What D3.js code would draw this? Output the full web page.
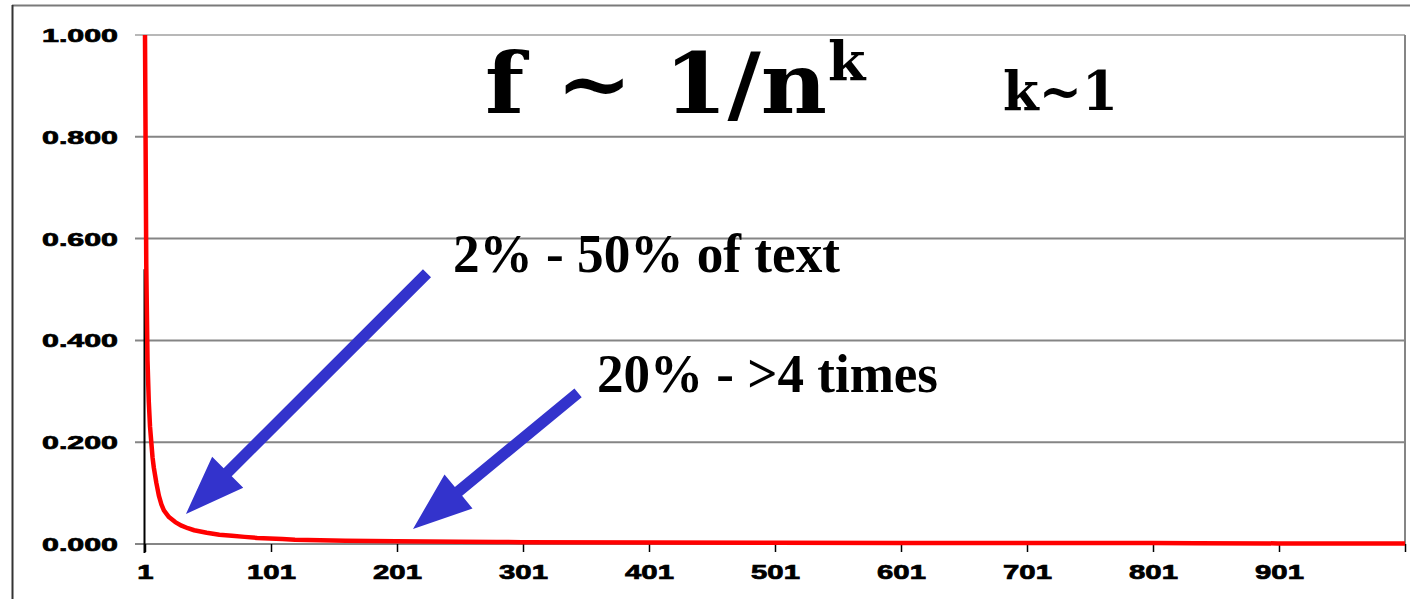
<!DOCTYPE html>
<html>
<head>
<meta charset="utf-8">
<script src="https://cdn.jsdelivr.net/npm/d3@7"></script>
<style>
  body { margin: 0; background: #fff; }
  svg { display: block; }
</style>
</head>
<body>
<div id="wrapper"></div>
<script>
// rank of word (n) and its relative frequency
const ranks = [1, 2, 3, 4, 5, 6, 7, 8, 10, 12, 14, 16, 20, 25, 30, 35, 40, 50, 60, 70, 80, 90, 100,
  110, 120, 140, 160, 180, 200, 250, 280, 300, 400, 500, 600, 700, 800, 835, 900, 1001]
const freqs = [1.000, 0.55, 0.36, 0.28, 0.23, 0.20, 0.17, 0.15, 0.12, 0.095, 0.078, 0.066, 0.053,
  0.043, 0.036, 0.031, 0.027, 0.022, 0.018, 0.016, 0.014, 0.012, 0.011, 0.010, 0.0085, 0.0075,
  0.0065, 0.006, 0.0055, 0.0045, 0.004, 0.0035, 0.003, 0.0025, 0.0022, 0.002, 0.0018, 0.0015,
  0.0012, 0.001]

const xTicks = [1, 101, 201, 301, 401, 501, 601, 701, 801, 901, 1001]
const yTicks = [0, 0.2, 0.4, 0.6, 0.8, 1.0]

const notes = ["2% - 50% of text", "20% - >4 times"]
// arrows in data units: [tail n, tail f, tip n, tip f]
const arrows = [
  [224.8, 0.532, 33.5, 0.059],
  [344.7, 0.297, 213.7, 0.0295]
]

function draw() {
  let dimensions = {
    width: 1410,
    height: 599,
    margin: { top: 35, right: 5, bottom: 55, left: 145 }
  }
  dimensions.boundedWidth = dimensions.width - dimensions.margin.left - dimensions.margin.right
  dimensions.boundedHeight = dimensions.height - dimensions.margin.top - dimensions.margin.bottom

  const wrapper = d3.select("#wrapper")
    .append("svg")
      .attr("width", dimensions.width)
      .attr("height", dimensions.height)

  // outer frame of the slide chart
  wrapper.append("line")
    .attr("x1", 12).attr("x2", 1410).attr("y1", 5.5).attr("y2", 5.5)
    .attr("stroke", "#7a7a7a").attr("stroke-width", 2)
  wrapper.append("line")
    .attr("x1", 12.5).attr("x2", 12.5).attr("y1", 5).attr("y2", 599)
    .attr("stroke", "#333").attr("stroke-width", 2)

  const bounds = wrapper.append("g")
    .attr("transform", `translate(${dimensions.margin.left},${dimensions.margin.top})`)

  const xScale = d3.scaleLinear()
    .domain([1, 1001])
    .range([0, dimensions.boundedWidth])

  const yScale = d3.scaleLinear()
    .domain([0, 1])
    .range([dimensions.boundedHeight, 0])

  // gridlines
  bounds.append("g")
    .selectAll("line")
    .data(yTicks)
    .join("line")
      .attr("x1", -10)
      .attr("x2", dimensions.boundedWidth)
      .attr("y1", d => yScale(d))
      .attr("y2", d => yScale(d))
      .attr("stroke", d => d === 1 ? "#b8b8b8" : "#858585")
      .attr("stroke-width", 2)

  // right border of plot
  bounds.append("line")
    .attr("x1", dimensions.boundedWidth).attr("x2", dimensions.boundedWidth)
    .attr("y1", 0).attr("y2", dimensions.boundedHeight)
    .attr("stroke", "#858585").attr("stroke-width", 2)

  // y axis
  const yAxisGenerator = d3.axisLeft(yScale)
    .tickValues(yTicks)
    .tickFormat(d3.format(".3f"))
    .tickSize(0)
    .tickPadding(27)
  const yAxis = bounds.append("g").call(yAxisGenerator)
  yAxis.select(".domain").remove()
  yAxis.selectAll("text")
    .attr("font-family", "Liberation Sans, Arial, sans-serif")
    .attr("font-weight", "bold")
    .attr("font-size", 18)
    .attr("fill", "#000")
    .attr("stroke", "#000")
    .attr("stroke-width", 0.7)
    .attr("dy", "0.36em")
    .attr("textLength", 76)
    .attr("lengthAdjust", "spacingAndGlyphs")

  // x axis
  const xAxisGenerator = d3.axisBottom(xScale)
    .tickValues(xTicks)
    .tickFormat(d => d === 1001 ? "" : d)
    .tickSize(8)
    .tickPadding(13)
  const xAxis = bounds.append("g")
    .attr("transform", `translate(0,${dimensions.boundedHeight})`)
    .call(xAxisGenerator)
  xAxis.select(".domain").remove()
  xAxis.selectAll(".tick line").attr("stroke", "#000").attr("stroke-width", 1.5)
  xAxis.selectAll("text")
    .attr("font-family", "Liberation Sans, Arial, sans-serif")
    .attr("font-weight", "bold")
    .attr("font-size", 19.5)
    .attr("fill", "#000")
    .attr("stroke", "#000")
    .attr("stroke-width", 0.7)
    .each(function(d) {
      const s = String(d)
      if (s.length) d3.select(this).attr("textLength", s.length * 16.3).attr("lengthAdjust", "spacingAndGlyphs")
    })

  // black value axis line
  bounds.append("line")
    .attr("x1", xScale(1) - 0.5).attr("x2", xScale(1) - 0.5)
    .attr("y1", yScale(0.54)).attr("y2", dimensions.boundedHeight + 9)
    .attr("stroke", "#000").attr("stroke-width", 2)

  // the frequency curve
  const lineGenerator = d3.line()
    .x((d, i) => xScale(ranks[i]))
    .y(d => yScale(d))
  bounds.append("path")
    .attr("d", lineGenerator(freqs))
    .attr("fill", "none")
    .attr("stroke", "#ff0000")
    .attr("stroke-width", 4.5)
    .attr("stroke-linejoin", "round")

  // title
  const title = wrapper.append("text")
    .attr("x", 485)
    .attr("y", 113)
    .attr("font-family", "DejaVu Serif, serif")
    .attr("font-weight", "bold")
    .attr("fill", "#000")
  title.append("tspan")
    .attr("font-size", 84)
    .attr("textLength", 342)
    .attr("lengthAdjust", "spacingAndGlyphs")
    .text("f ~ 1/n")
  title.append("tspan")
    .attr("font-size", 54)
    .attr("x", 828)
    .attr("y", 80)
    .text("k")
  wrapper.append("text")
    .attr("x", 1003)
    .attr("y", 110)
    .attr("font-family", "DejaVu Serif, serif")
    .attr("font-weight", "bold")
    .attr("font-size", 54)
    .attr("textLength", 115)
    .attr("lengthAdjust", "spacingAndGlyphs")
    .text("k~1")

  // arrows
  const arrowGroup = wrapper.append("g")
    .attr("transform", `translate(${dimensions.margin.left},${dimensions.margin.top})`)
  arrows.forEach(a => {
    const x0 = xScale(a[0]), y0 = yScale(a[1])
    const x1 = xScale(a[2]), y1 = yScale(a[3])
    const len = Math.hypot(x1 - x0, y1 - y0)
    const ux = (x1 - x0) / len, uy = (y1 - y0) / len
    const px = -uy, py = ux
    const shaft = 5.7, head = 22, headLen = 59
    const bx = x1 - ux * headLen, by = y1 - uy * headLen
    const pts = [
      [x0 + px * shaft, y0 + py * shaft],
      [bx + px * shaft, by + py * shaft],
      [bx + px * head, by + py * head],
      [x1, y1],
      [bx - px * head, by - py * head],
      [bx - px * shaft, by - py * shaft],
      [x0 - px * shaft, y0 - py * shaft]
    ]
    arrowGroup.append("polygon")
      .attr("points", pts.map(p => p.join(",")).join(" "))
      .attr("fill", "#3333cc")
  })

  // annotations
  const notePos = [[453, 272, 387], [597, 392, 341]]
  wrapper.append("g")
    .selectAll("text")
    .data(notes)
    .join("text")
      .attr("x", (d, i) => notePos[i][0])
      .attr("y", (d, i) => notePos[i][1])
      .attr("textLength", (d, i) => notePos[i][2])
      .attr("lengthAdjust", "spacingAndGlyphs")
      .attr("font-family", "Liberation Serif, Times New Roman, serif")
      .attr("font-weight", "bold")
      .attr("font-size", 54)
      .attr("fill", "#000")
      .text(d => d)
}

draw()
</script>
</body>
</html>
